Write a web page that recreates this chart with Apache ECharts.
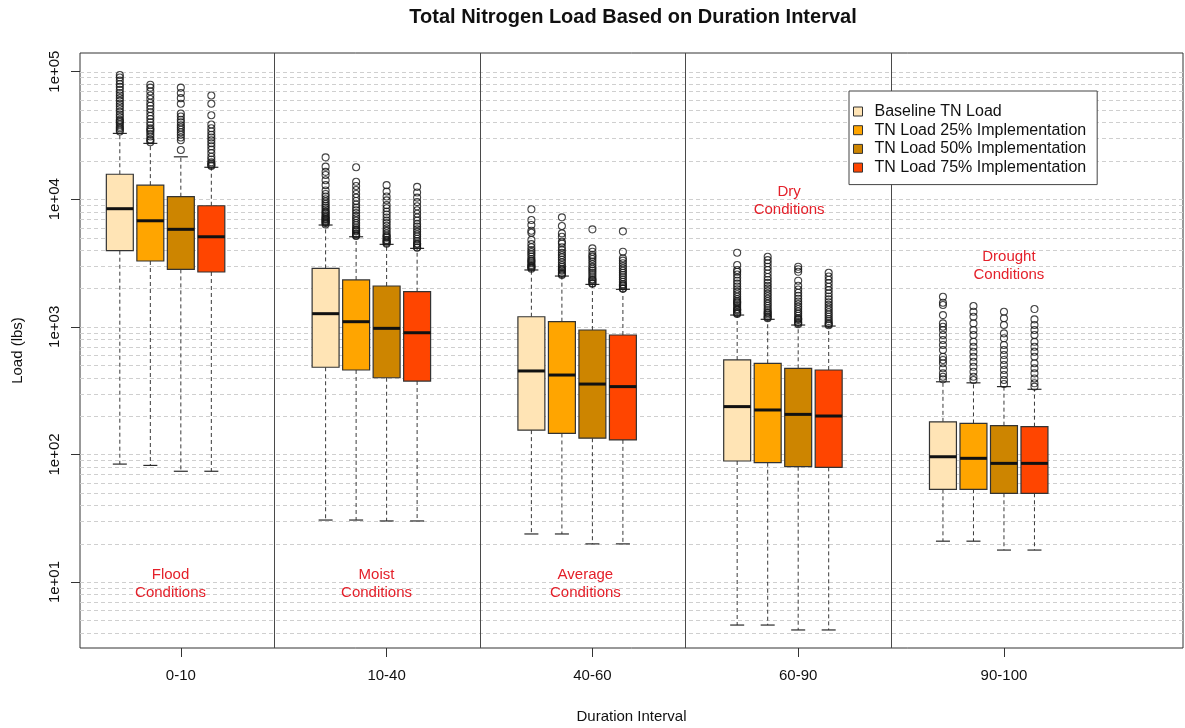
<!DOCTYPE html>
<html>
<head>
<meta charset="utf-8">
<script src="https://cdn.jsdelivr.net/npm/echarts@6/dist/echarts.min.js"></script>
<style>
  html, body { margin: 0; padding: 0; background: #ffffff; }
  #chart { width: 1185px; height: 728px; }
</style>
</head>
<body>
<div id="chart"></div>
<script>
// Duration interval classes
const categories = ['0-10', '10-40', '40-60', '60-90', '90-100'];

const seriesNames = [
  'Baseline TN Load',
  'TN Load 25% Implementation',
  'TN Load 50% Implementation',
  'TN Load 75% Implementation'
];

// Box statistics per interval: [lower whisker, Q1, median, Q3, upper whisker] (lbs)
const baselineBox = [
  [84, 3950, 8430, 15700, 32800],
  [30.6, 482, 1268, 2870, 6280],
  [23.8, 155, 451, 1200, 2790],
  [4.6, 88.8, 237, 550, 1237],
  [20.9, 53.3, 95.9, 180, 371]
];
const impl25Box = [
  [82, 3280, 6780, 12900, 27400],
  [30.6, 459, 1097, 2330, 5080],
  [23.8, 146, 419, 1097, 2500],
  [4.6, 86.1, 223, 518, 1145],
  [20.9, 53.3, 93.2, 175, 364]
];
const impl50Box = [
  [73.8, 2820, 5810, 10470, 21500],
  [30.1, 399, 973, 2090, 4430],
  [19.9, 134, 356, 944, 2150],
  [4.21, 80.1, 206, 473, 1033],
  [17.8, 49.6, 85.1, 168, 340]
];
const impl75Box = [
  [73.8, 2690, 5080, 8890, 17800],
  [30.1, 376, 899, 1885, 4120],
  [19.9, 130, 340, 863, 1967],
  [4.21, 79.2, 200, 459, 1014],
  [17.8, 49.6, 85.1, 165, 324]
];

// Outlying loads above the upper whisker, per interval (lbs)
const baselineOutliers = [
  [34000, 35000, 36000, 37000, 38500, 40000, 41000, 42000, 44000, 46000, 48500, 51000, 53500, 56000, 59000, 62000, 65000, 68000, 72000, 76000, 80000, 85000, 90000, 94000],
  [6350, 6500, 6600, 6700, 6800, 6950, 7000, 7200, 7300, 7450, 7700, 7850, 8000, 8300, 8600, 8900, 9200, 9600, 10000, 10500, 11000, 11700, 12900, 14100, 15500, 16400, 18000, 21300],
  [2850, 2900, 2950, 3000, 3050, 3150, 3250, 3300, 3400, 3550, 3700, 3850, 4000, 4200, 4450, 4800, 5460, 5660, 6280, 6870, 8340],
  [1260, 1280, 1300, 1340, 1360, 1380, 1430, 1480, 1530, 1560, 1590, 1650, 1720, 1800, 1880, 1970, 2070, 2180, 2300, 2430, 2570, 2700, 2790, 3050, 3810],
  [388, 406, 432, 473, 518, 550, 583, 658, 720, 789, 863, 944, 1002, 1064, 1236, 1483, 1545, 1722]
];
const impl25Outliers = [
  [28000, 29000, 29500, 31000, 32500, 34000, 35000, 36000, 38000, 40000, 42500, 45000, 48000, 51000, 54000, 57000, 61000, 65000, 70000, 75000, 79000],
  [5150, 5200, 5300, 5400, 5600, 5700, 5800, 6000, 6250, 6500, 6800, 7100, 7400, 7800, 8200, 8600, 9100, 9700, 10300, 11000, 11800, 12700, 13700, 17800],
  [2550, 2600, 2650, 2750, 2800, 2850, 2950, 3050, 3200, 3350, 3500, 3650, 3800, 4000, 4200, 4500, 4640, 5080, 5400, 6170, 7210],
  [1170, 1190, 1210, 1250, 1280, 1300, 1350, 1400, 1460, 1520, 1590, 1660, 1740, 1820, 1910, 2000, 2100, 2210, 2330, 2460, 2620, 2790, 2960, 3150, 3330, 3540],
  [383, 406, 445, 486, 532, 583, 638, 698, 764, 863, 944, 1064, 1200, 1313, 1455]
];
const impl50Outliers = [
  [24300, 29000, 30500, 32000, 33500, 35000, 36500, 38000, 40000, 42000, 44500, 47000, 56000, 62000, 68000, 75000],
  [4480, 4550, 4650, 4750, 4800, 5000, 5100, 5200, 5400, 5650, 5900, 6200, 6500, 6800, 7200, 7600, 8000, 8500, 9000, 9800, 10500, 11500, 12900],
  [2180, 2200, 2280, 2330, 2360, 2450, 2550, 2650, 2750, 2850, 2950, 3100, 3250, 3400, 3550, 3660, 3880, 4120, 5810],
  [1050, 1070, 1090, 1130, 1150, 1170, 1220, 1270, 1320, 1380, 1440, 1510, 1580, 1660, 1750, 1850, 1960, 2100, 2300, 2700, 2830, 2960],
  [356, 383, 419, 459, 502, 550, 601, 658, 720, 813, 889, 1033, 1167, 1313]
];
const impl75Outliers = [
  [18200, 18500, 19000, 19500, 20500, 21500, 23000, 24500, 26000, 27500, 29000, 30500, 32000, 34000, 36000, 38500, 45500, 56000, 65000],
  [4170, 4200, 4350, 4450, 4500, 4700, 4900, 5100, 5300, 5550, 5800, 6100, 6400, 6800, 7200, 7700, 8200, 8800, 9500, 10300, 11300, 12500],
  [1990, 2000, 2080, 2120, 2160, 2250, 2350, 2450, 2550, 2650, 2750, 2870, 3000, 3150, 3300, 3440, 3880, 5600],
  [1030, 1050, 1070, 1110, 1150, 1200, 1250, 1300, 1360, 1420, 1490, 1560, 1640, 1730, 1830, 1940, 2060, 2200, 2340, 2480, 2655],
  [340, 361, 394, 432, 473, 518, 583, 638, 698, 764, 863, 944, 1033, 1145, 1378]
];

// ---- layout / style ----
const FILLS = ['#FFE4B5', '#FFA500', '#CD8500', '#FF4500'];
const BOX_OFFSETS = [-0.2965, -0.1482, 0, 0.1482];   // box centres relative to the interval tick
const BOX_W = 0.131;                                 // box width in interval units
const SEPARATOR_OFFSET = 0.452;                      // vertical divider after each interval
const FONT = 'Liberation Sans, Arial, Helvetica, sans-serif';
const NOTE_RED = '#e4202a';

const boxSets = [baselineBox, impl25Box, impl50Box, impl75Box];
const outlierSets = [baselineOutliers, impl25Outliers, impl50Outliers, impl75Outliers];

// faint reference lines at 1..9 x 10^k inside the visible range
const Y_MIN = 3.04, Y_MAX = 140000;
const gridValues = [];
for (let k = 0; k <= 5; k++) {
  for (let m = 1; m <= 9; m++) {
    const v = m * Math.pow(10, k);
    if (v > Y_MIN && v < Y_MAX) gridValues.push(v);
  }
}

function renderBox(params, api) {
  const x = api.value(0);
  const low = api.coord([x, api.value(1)]);
  const q1 = api.coord([x, api.value(2)]);
  const med = api.coord([x, api.value(3)]);
  const q3 = api.coord([x, api.value(4)]);
  const high = api.coord([x, api.value(5)]);
  const xl = api.coord([x - BOX_W / 2, api.value(3)])[0];
  const xr = api.coord([x + BOX_W / 2, api.value(3)])[0];
  const cx = med[0];
  const bw = xr - xl;
  const cap = bw * 0.26;
  const whisker = { stroke: '#3a3a3a', lineWidth: 1, lineDash: [4, 3] };
  const capStyle = { stroke: '#2a2a2a', lineWidth: 1.2 };
  return {
    type: 'group',
    children: [
      { type: 'line', shape: { x1: cx, y1: q3[1], x2: cx, y2: high[1] }, style: whisker },
      { type: 'line', shape: { x1: cx, y1: q1[1], x2: cx, y2: low[1] }, style: whisker },
      { type: 'line', shape: { x1: cx - cap, y1: high[1], x2: cx + cap, y2: high[1] }, style: capStyle },
      { type: 'line', shape: { x1: cx - cap, y1: low[1], x2: cx + cap, y2: low[1] }, style: capStyle },
      { type: 'rect', shape: { x: xl, y: q3[1], width: bw, height: q1[1] - q3[1] },
        style: { fill: api.visual('color'), stroke: '#333333', lineWidth: 1.2 } },
      { type: 'line', shape: { x1: xl, y1: med[1], x2: xr, y2: med[1] },
        style: { stroke: '#111111', lineWidth: 3 } }
    ]
  };
}

const series = [];

// horizontal dashed reference lines across the plot
series.push({
  type: 'custom',
  z: 1,
  silent: true,
  data: gridValues.map(v => [0, v]),
  renderItem: (params, api) => {
    const cs = params.coordSys;
    const y = Math.round(api.coord([0, api.value(1)])[1]) + 0.5;
    return {
      type: 'line',
      shape: { x1: cs.x, y1: y, x2: cs.x + cs.width, y2: y },
      style: { stroke: '#cfcfcf', lineWidth: 1, lineDash: [4, 3] }
    };
  }
});

// solid dividers between duration intervals
series.push({
  type: 'custom',
  z: 2,
  silent: true,
  data: categories.slice(0, -1).map((c, g) => [g + SEPARATOR_OFFSET, Y_MIN]),
  renderItem: (params, api) => {
    const cs = params.coordSys;
    const x = Math.round(api.coord([api.value(0), api.value(1)])[0]) + 0.5;
    return {
      type: 'line',
      shape: { x1: x, y1: cs.y, x2: x, y2: cs.y + cs.height },
      style: { stroke: '#4a4a4a', lineWidth: 1 }
    };
  }
});

boxSets.forEach((set, s) => {
  series.push({
    type: 'custom',
    name: seriesNames[s],
    z: 3,
    itemStyle: { color: FILLS[s] },
    encode: { x: 0, y: [1, 2, 3, 4, 5] },
    data: set.map((b, g) => [g + BOX_OFFSETS[s]].concat(b)),
    renderItem: renderBox
  });
});

outlierSets.forEach((set, s) => {
  series.push({
    type: 'scatter',
    name: seriesNames[s] + ' (outliers)',
    symbol: 'circle',
    symbolSize: 7,
    z: 4,
    silent: true,
    itemStyle: { color: 'rgba(0,0,0,0)', borderColor: '#161616', borderWidth: 1.1 },
    data: set.flatMap((vals, g) => vals.map(v => [g + BOX_OFFSETS[s], v]))
  });
});

// condition notes placed in the data space of each interval
const notes = [
  { text: 'Flood\nConditions', x: -0.05, y: 9.6 },
  { text: 'Moist\nConditions', x: 0.951, y: 9.6 },
  { text: 'Average\nConditions', x: 1.966, y: 9.6 },
  { text: 'Dry\nConditions', x: 2.956, y: 9680 },
  { text: 'Drought\nConditions', x: 4.024, y: 2990 }
];
series.push({
  type: 'custom',
  z: 5,
  silent: true,
  data: notes.map(n => [n.x, n.y]),
  renderItem: (params, api) => {
    const p = api.coord([api.value(0), api.value(1)]);
    return {
      type: 'text',
      x: p[0], y: p[1],
      style: {
        text: notes[params.dataIndex].text,
        fill: NOTE_RED,
        fontSize: 15,
        fontFamily: FONT,
        lineHeight: 18,
        align: 'center',
        verticalAlign: 'middle'
      }
    };
  }
});

const chart = echarts.init(document.getElementById('chart'), null, { renderer: 'canvas' });
chart.setOption({
  animation: false,
  backgroundColor: '#ffffff',
  textStyle: { fontFamily: FONT },
  title: {
    text: 'Total Nitrogen Load Based on Duration Interval',
    left: 633,
    textAlign: 'center',
    top: 7,
    padding: 0,
    textStyle: { fontSize: 20, fontWeight: 'bold', color: '#111111', fontFamily: FONT }
  },
  legend: {
    data: seriesNames,
    orient: 'vertical',
    left: 849,
    top: 91,
    padding: [12.5, 11, 9, 4],
    itemGap: 2.7,
    itemWidth: 9,
    itemHeight: 9,
    icon: 'rect',
    backgroundColor: '#ffffff',
    borderColor: '#444444',
    borderWidth: 1,
    borderRadius: 0,
    itemStyle: { borderColor: '#333333', borderWidth: 1 },
    textStyle: { fontSize: 16, color: '#111111', fontFamily: FONT, lineHeight: 16, padding: [0, 0, 0, 7] }
  },
  grid: {
    left: 80,
    right: 2,
    top: 53,
    bottom: 80,
    containLabel: false,
    outerBoundsMode: 'none',
    show: true,
    borderColor: '#333333',
    borderWidth: 1,
    backgroundColor: 'transparent'
  },
  xAxis: {
    type: 'value',
    min: -0.49,
    max: 4.87,
    name: 'Duration Interval',
    nameLocation: 'middle',
    nameGap: 61,
    nameTextStyle: { fontSize: 15, color: '#111111', fontFamily: FONT },
    axisLine: { show: false, onZero: false },
    splitLine: { show: false },
    axisTick: {
      show: true, length: 9, inside: false,
      customValues: categories.map((c, g) => g),
      lineStyle: { color: '#333333' }
    },
    axisLabel: {
      show: true,
      margin: 20,
      fontSize: 15,
      color: '#111111',
      customValues: categories.map((c, g) => g),
      formatter: v => categories[Math.round(v)] || ''
    }
  },
  yAxis: {
    type: 'log',
    logBase: 10,
    min: Y_MIN,
    max: Y_MAX,
    name: 'Load (lbs)',
    nameLocation: 'middle',
    nameGap: 55,
    nameTextStyle: { fontSize: 15, color: '#111111', fontFamily: FONT },
    axisLine: { show: false, onZero: false },
    splitLine: { show: false },
    minorSplitLine: { show: false },
    axisTick: {
      show: true, length: 9, inside: false,
      customValues: [10, 100, 1000, 10000, 100000],
      lineStyle: { color: '#333333' }
    },
    axisLabel: {
      show: true,
      rotate: 90,
      margin: 18,
      fontSize: 15,
      color: '#111111',
      customValues: [10, 100, 1000, 10000, 100000],
      formatter: v => {
        const e = Math.round(Math.log10(v));
        return '1e+' + String(e).padStart(2, '0');
      }
    }
  },
  series: series
});
</script>
</body>
</html>
